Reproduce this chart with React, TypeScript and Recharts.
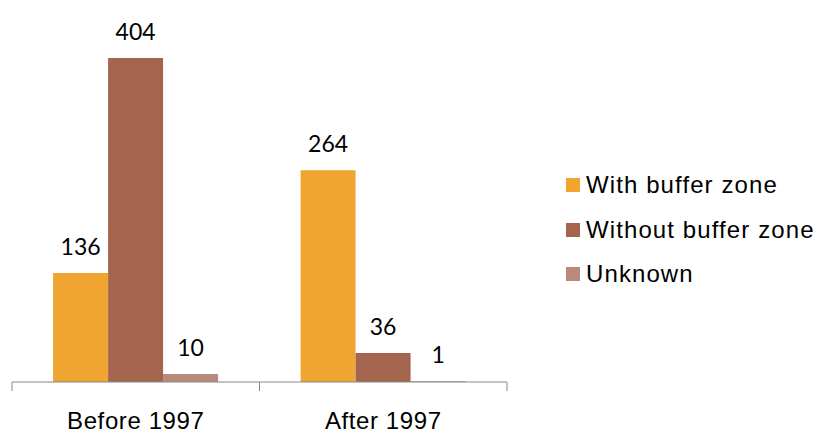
import React from 'react';
import { BarChart, Bar, XAxis, YAxis, LabelList, Legend } from 'recharts';

const categories = ['Before 1997', 'After 1997'];
const withBuffer = [136, 264];
const withoutBuffer = [404, 36];
const unknown = [10, 1];
const seriesNames = ['With buffer zone', 'Without buffer zone', 'Unknown'];
const seriesKeys = ['withBuffer', 'withoutBuffer', 'unknown'];
const seriesColors = ['#F0A530', '#A5644E', '#B9897C'];

const data = categories.map((c, i) => ({
  category: c,
  withBuffer: withBuffer[i],
  withoutBuffer: withoutBuffer[i],
  unknown: unknown[i],
}));

const TICK_SIZE = 9;
const TICK_MARGIN = 21;
const AXIS_COLOR = '#888888';

const CategoryTick = (props: any) => {
  const { x, y, payload, index, visibleTicksCount } = props;
  const half = payload && typeof payload.offset === 'number' ? payload.offset : 0;
  const axisY = y - TICK_SIZE - TICK_MARGIN;
  const last = index === (visibleTicksCount ?? categories.length) - 1;
  return (
    <g>
      <line x1={x - half} x2={x - half} y1={axisY} y2={axisY + TICK_SIZE} stroke={AXIS_COLOR} strokeWidth={1} />
      {last && (
        <line x1={x + half} x2={x + half} y1={axisY} y2={axisY + TICK_SIZE} stroke={AXIS_COLOR} strokeWidth={1} />
      )}
      <text
        x={x}
        y={y}
        dy="0.71em"
        textAnchor="middle"
        fill="#000"
        style={{ fontFamily: '"Liberation Sans", Arial, sans-serif', fontSize: 24, letterSpacing: 0.6 }}
      >
        {payload.value}
      </text>
    </g>
  );
};

const LegendContent = () => (
  <div style={{ fontFamily: '"Liberation Sans", Arial, sans-serif', fontSize: 24, letterSpacing: 1.1, color: '#000' }}>
    {seriesNames.map((name, i) => (
      <div key={name} style={{ display: 'flex', alignItems: 'center', height: 44.5, whiteSpace: 'nowrap' }}>
        <div style={{ width: 14, height: 14, background: seriesColors[i], marginRight: 6, flex: 'none' }} />
        <span>{name}</span>
      </div>
    ))}
  </div>
);

export default function App() {
  return (
    <div style={{ position: 'absolute', left: 0, top: 0, width: 817, height: 433, background: '#fff' }}>
      <BarChart
        width={817}
        height={433}
        data={data}
        margin={{ top: 21, right: 310, bottom: 0, left: 12 }}
        barCategoryGap="16.6%"
        barGap={0}
      >
        <XAxis
          dataKey="category"
          height={51}
          axisLine={{ stroke: AXIS_COLOR, strokeWidth: 1 }}
          tickLine={false}
          tickSize={TICK_SIZE}
          tickMargin={TICK_MARGIN}
          tick={<CategoryTick />}
          interval={0}
        />
        <YAxis hide domain={[0, 450]} />
        <Legend
          layout="vertical"
          align="center"
          verticalAlign="middle"
          content={<LegendContent />}
          wrapperStyle={{ left: 566, top: 162.75, width: 251 }}
        />
        {seriesKeys.map((k, i) => (
          <Bar key={k} dataKey={k} name={seriesNames[i]} fill={seriesColors[i]} isAnimationActive={false}>
            <LabelList
              dataKey={k}
              position="top"
              offset={18}
              fill="#000"
              style={{ fontFamily: 'Lato, "Open Sans", sans-serif', fontSize: 23 }}
            />
          </Bar>
        ))}
      </BarChart>
    </div>
  );
}
